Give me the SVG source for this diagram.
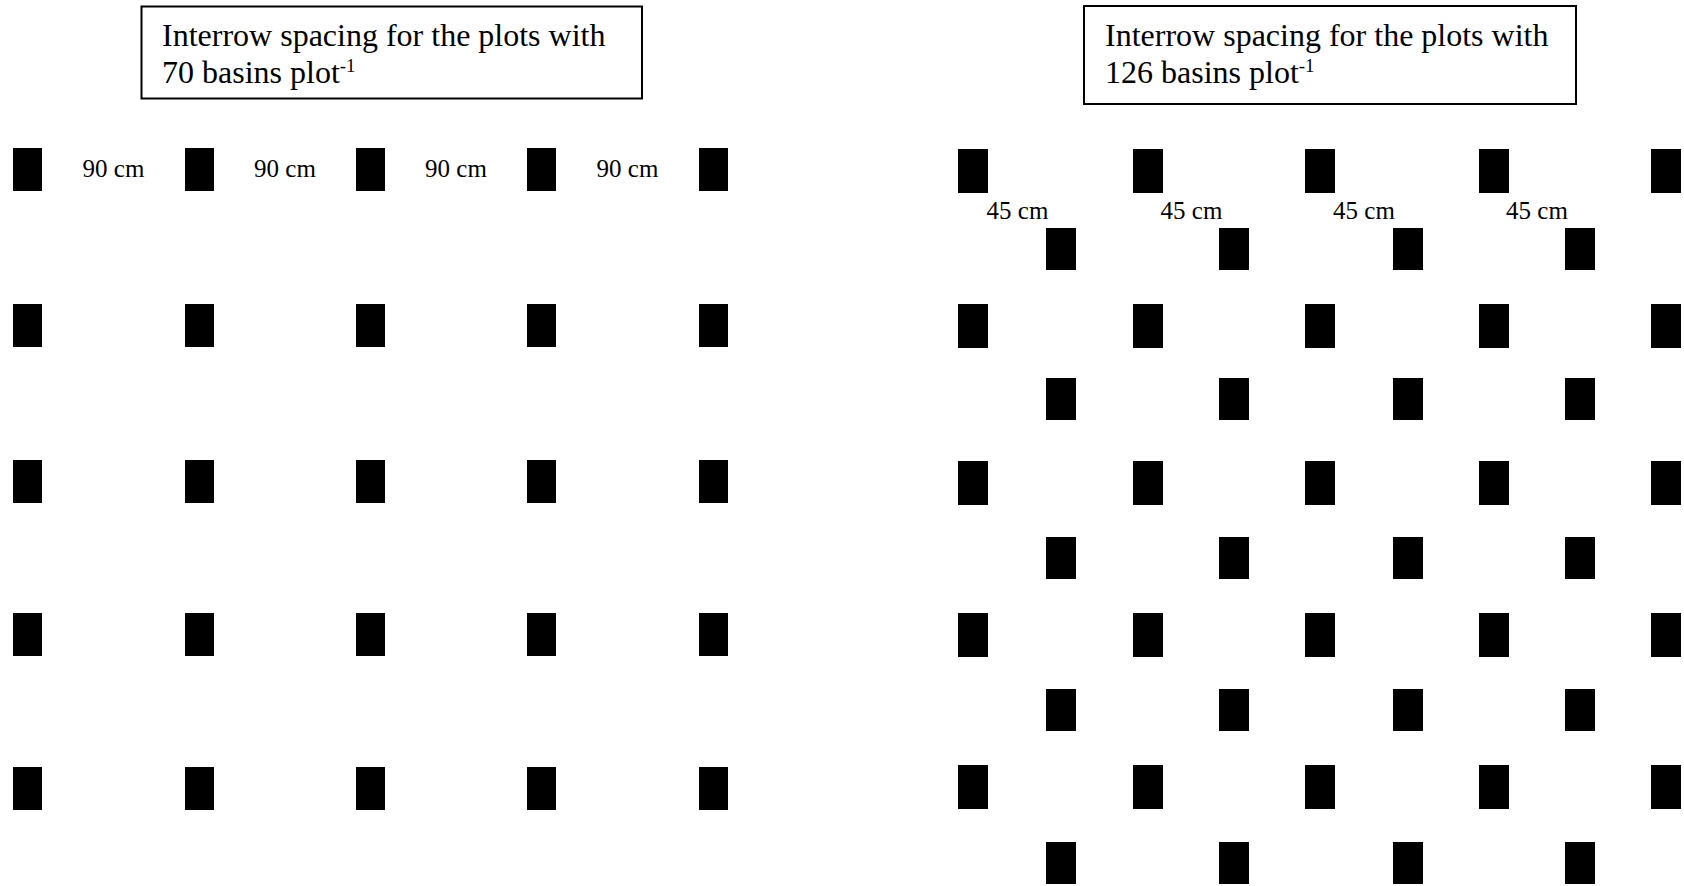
<svg xmlns="http://www.w3.org/2000/svg" width="1684" height="886" viewBox="0 0 1684 886">
<style>
.box{fill:#fff;stroke:#000;stroke-width:2}
.title{font-family:"Liberation Serif","Times New Roman",serif;font-size:32px;fill:#000}
.sup{font-size:19px}
.lbl{font-family:"Liberation Serif","Times New Roman",serif;font-size:25px;fill:#000;text-anchor:middle}
.b{fill:#000}
</style>
<defs>
<rect id="bl" width="29" height="43" class="b"/>
<rect id="bm" width="30" height="44" class="b"/>
<rect id="bo" width="30" height="42" class="b"/>
</defs>
<rect width="1684" height="886" fill="#fff"/>

<g id="title-70">
<rect class="box" x="141.5" y="6.5" width="500.5" height="92"/>
<text class="title" x="162" y="45.5">Interrow spacing for the plots with</text>
<text class="title" x="162" y="83">70 basins plot<tspan class="sup" dy="-11">-1</tspan></text>
</g>

<g id="title-126">
<rect class="box" x="1084" y="6" width="492" height="98"/>
<text class="title" x="1105" y="45.5">Interrow spacing for the plots with</text>
<text class="title" x="1105" y="83">126 basins plot<tspan class="sup" dy="-11">-1</tspan></text>
</g>

<g id="grid-70">
<g id="labels-90">
<text class="lbl" x="113.5" y="176.5">90 cm</text>
<text class="lbl" x="285" y="176.5">90 cm</text>
<text class="lbl" x="456" y="176.5">90 cm</text>
<text class="lbl" x="627.5" y="176.5">90 cm</text>
</g>
<g id="row70-1"><use href="#bl" x="13" y="148"/><use href="#bl" x="185" y="148"/><use href="#bl" x="356" y="148"/><use href="#bl" x="527" y="148"/><use href="#bl" x="699" y="148"/></g>
<g id="row70-2"><use href="#bl" x="13" y="304"/><use href="#bl" x="185" y="304"/><use href="#bl" x="356" y="304"/><use href="#bl" x="527" y="304"/><use href="#bl" x="699" y="304"/></g>
<g id="row70-3"><use href="#bl" x="13" y="460"/><use href="#bl" x="185" y="460"/><use href="#bl" x="356" y="460"/><use href="#bl" x="527" y="460"/><use href="#bl" x="699" y="460"/></g>
<g id="row70-4"><use href="#bl" x="13" y="613"/><use href="#bl" x="185" y="613"/><use href="#bl" x="356" y="613"/><use href="#bl" x="527" y="613"/><use href="#bl" x="699" y="613"/></g>
<g id="row70-5"><use href="#bl" x="13" y="767"/><use href="#bl" x="185" y="767"/><use href="#bl" x="356" y="767"/><use href="#bl" x="527" y="767"/><use href="#bl" x="699" y="767"/></g>
</g>

<g id="grid-126">
<g id="labels-45">
<text class="lbl" x="1017.5" y="218.5">45 cm</text>
<text class="lbl" x="1191.5" y="218.5">45 cm</text>
<text class="lbl" x="1364" y="218.5">45 cm</text>
<text class="lbl" x="1537" y="218.5">45 cm</text>
</g>
<g id="row126-1"><use href="#bm" x="958" y="149"/><use href="#bm" x="1133" y="149"/><use href="#bm" x="1305" y="149"/><use href="#bm" x="1479" y="149"/><use href="#bm" x="1651" y="149"/></g>
<g id="row126-1o"><use href="#bo" x="1046" y="228"/><use href="#bo" x="1219" y="228"/><use href="#bo" x="1393" y="228"/><use href="#bo" x="1565" y="228"/></g>
<g id="row126-2"><use href="#bm" x="958" y="304"/><use href="#bm" x="1133" y="304"/><use href="#bm" x="1305" y="304"/><use href="#bm" x="1479" y="304"/><use href="#bm" x="1651" y="304"/></g>
<g id="row126-2o"><use href="#bo" x="1046" y="378"/><use href="#bo" x="1219" y="378"/><use href="#bo" x="1393" y="378"/><use href="#bo" x="1565" y="378"/></g>
<g id="row126-3"><use href="#bm" x="958" y="461"/><use href="#bm" x="1133" y="461"/><use href="#bm" x="1305" y="461"/><use href="#bm" x="1479" y="461"/><use href="#bm" x="1651" y="461"/></g>
<g id="row126-3o"><use href="#bo" x="1046" y="537"/><use href="#bo" x="1219" y="537"/><use href="#bo" x="1393" y="537"/><use href="#bo" x="1565" y="537"/></g>
<g id="row126-4"><use href="#bm" x="958" y="613"/><use href="#bm" x="1133" y="613"/><use href="#bm" x="1305" y="613"/><use href="#bm" x="1479" y="613"/><use href="#bm" x="1651" y="613"/></g>
<g id="row126-4o"><use href="#bo" x="1046" y="689"/><use href="#bo" x="1219" y="689"/><use href="#bo" x="1393" y="689"/><use href="#bo" x="1565" y="689"/></g>
<g id="row126-5"><use href="#bm" x="958" y="765"/><use href="#bm" x="1133" y="765"/><use href="#bm" x="1305" y="765"/><use href="#bm" x="1479" y="765"/><use href="#bm" x="1651" y="765"/></g>
<g id="row126-5o"><use href="#bo" x="1046" y="842"/><use href="#bo" x="1219" y="842"/><use href="#bo" x="1393" y="842"/><use href="#bo" x="1565" y="842"/></g>
</g>
</svg>
